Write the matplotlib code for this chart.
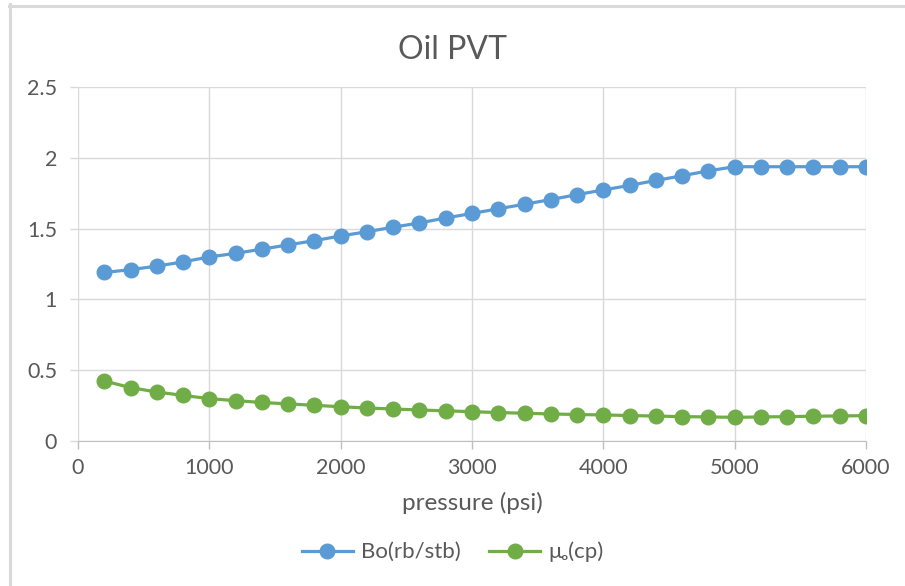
import numpy as np
import matplotlib.pyplot as plt

plt.rcParams['font.family'] = ['Lato', 'DejaVu Sans']

pressure = [200, 400, 600, 800, 1000, 1200, 1400, 1600, 1800, 2000,
            2200, 2400, 2600, 2800, 3000, 3200, 3400, 3600, 3800, 4000,
            4200, 4400, 4600, 4800, 5000, 5200, 5400, 5600, 5800, 6000]
bo = [1.19, 1.21, 1.235, 1.265, 1.30, 1.325, 1.355, 1.385, 1.415, 1.448,
      1.478, 1.51, 1.54, 1.575, 1.607, 1.64, 1.672, 1.705, 1.74, 1.773,
      1.805, 1.84, 1.873, 1.908, 1.937, 1.937, 1.937, 1.937, 1.937, 1.937]
mu_o = [0.424, 0.377, 0.346, 0.322, 0.299, 0.285, 0.272, 0.262, 0.252, 0.242,
        0.233, 0.226, 0.219, 0.213, 0.207, 0.201, 0.196, 0.191, 0.187, 0.184,
        0.180, 0.176, 0.172, 0.170, 0.167, 0.170, 0.172, 0.175, 0.177, 0.179]

x_ticks = [0, 1000, 2000, 3000, 4000, 5000, 6000]
y_ticks = [0, 0.5, 1, 1.5, 2, 2.5]

txt = '#595959'
grid = '#D9D9D9'

fig = plt.figure(figsize=(9.05, 5.86), dpi=100)
ax = fig.add_axes([78/905, 1-441/586, (866-78)/905, (441-87)/586])

ax.plot(pressure, bo, color='#5B9BD5', lw=2.3, marker='o', ms=10.5, label='Bo(rb/stb)', zorder=3)
ax.plot(pressure, mu_o, color='#70AD47', lw=2.3, marker='o', ms=10.5, label='μₒ(cp)', zorder=3)

ax.set_xlim(0, 6000)
ax.set_ylim(0, 2.5)
ax.set_xticks(x_ticks)
ax.set_yticks(y_ticks)
ax.set_yticklabels(['0', '0.5', '1', '1.5', '2', '2.5'])
ax.grid(True, color=grid, lw=1)
ax.set_axisbelow(True)
for s in ['top', 'right', 'left']:
    ax.spines[s].set_visible(False)
ax.spines['bottom'].set_color('#BFBFBF')
ax.tick_params(colors=txt, labelsize=15.5, length=6, width=1)
ax.tick_params(axis='x', color='#BFBFBF', pad=6)
ax.tick_params(axis='y', color=grid, pad=9)

ax.set_xlabel('pressure (psi)', fontsize=17.5, color=txt)
ax.xaxis.set_label_coords(0.5, -(503-441)/354)
ax.xaxis.label.set_va('center')
fig.text(0.5, 1-50/586, 'Oil PVT', ha='center', va='center', fontsize=23, color=txt)

fig.legend(loc='center', bbox_to_anchor=(0.5, 1-552/586), ncol=2, frameon=False,
           fontsize=16, labelcolor=txt, handlelength=2.3, handletextpad=0.35,
           columnspacing=1.3)

# cadre gris (seulement gauche et haut visibles)
fig.add_artist(plt.Line2D([9.5/905, 9.5/905], [0, 1-4/586], transform=fig.transFigure,
                          color=grid, lw=2.2))
fig.add_artist(plt.Line2D([8.5/905, 1], [1-5.5/586, 1-5.5/586], transform=fig.transFigure,
                          color=grid, lw=2.2))

fig.savefig('out.png', dpi=100)
